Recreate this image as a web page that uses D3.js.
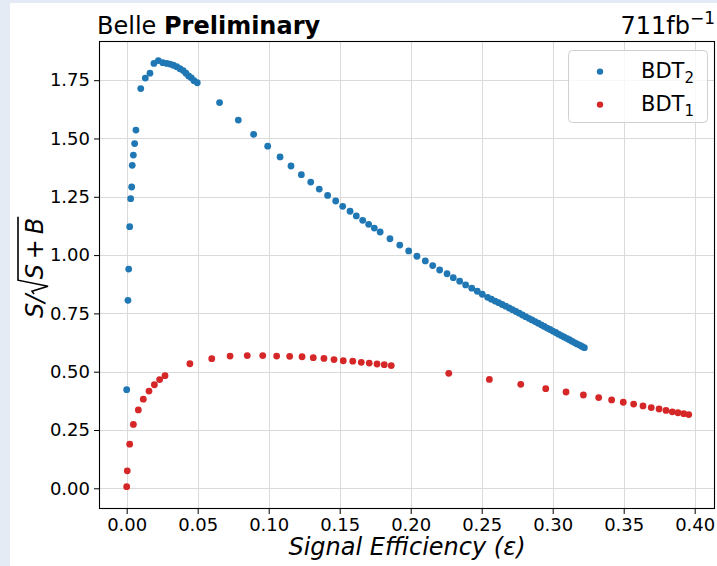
<!DOCTYPE html>
<html>
<head>
<meta charset="utf-8">
<script src="https://cdn.jsdelivr.net/npm/d3@7"></script>
<style>
  html, body { margin: 0; padding: 0; background: #e5ebf4; }
  svg { display: block; font-family: "DejaVu Sans", sans-serif; }
</style>
</head>
<body>
<svg id="chart" width="717" height="566"></svg>
<script>
// Signal efficiency scan for the two classifiers
const bdt2Eff = [
  0.0000, 0.0009, 0.0014, 0.0021, 0.0028, 0.0035, 0.0039, 0.0047, 0.0056, 0.0065,
  0.0099, 0.0131, 0.0164, 0.0192, 0.0223, 0.0254, 0.0282, 0.0305, 0.0328, 0.0352,
  0.0375, 0.0398, 0.0417, 0.0436, 0.0455, 0.0474, 0.0497, 0.0654, 0.0786, 0.0894,
  0.0993, 0.1080, 0.1157, 0.1230, 0.1296, 0.1356, 0.1415, 0.1472, 0.1521, 0.1573,
  0.1617, 0.1662, 0.1704, 0.1744, 0.1785, 0.1854, 0.1923, 0.1986, 0.2044, 0.2103,
  0.2155, 0.2204, 0.2256, 0.2300, 0.2345, 0.2387, 0.2430, 0.2469, 0.2504, 0.2542,
  0.2568, 0.2594, 0.2619, 0.2644, 0.2669, 0.2693, 0.2717, 0.2741, 0.2764, 0.2787,
  0.2810, 0.2832, 0.2854, 0.2876, 0.2898, 0.2919, 0.2940, 0.2961, 0.2981, 0.3001,
  0.3021, 0.3041, 0.3060, 0.3079, 0.3098, 0.3117, 0.3135, 0.3153, 0.3171, 0.3189,
  0.3206, 0.3223
];
const bdt2Signif = [
  0.423, 0.806, 0.940, 1.122, 1.242, 1.292, 1.385, 1.429, 1.478, 1.536,
  1.714, 1.759, 1.780, 1.822, 1.834, 1.825, 1.822, 1.819, 1.814, 1.808,
  1.799, 1.791, 1.780, 1.768, 1.760, 1.748, 1.739, 1.654, 1.579, 1.518,
  1.467, 1.421, 1.382, 1.345, 1.313, 1.283, 1.256, 1.232, 1.209, 1.188,
  1.168, 1.149, 1.132, 1.116, 1.099, 1.070, 1.043, 1.018, 0.995, 0.975,
  0.955, 0.936, 0.920, 0.903, 0.888, 0.872, 0.858, 0.845, 0.832, 0.819,
  0.811, 0.803, 0.796, 0.788, 0.781, 0.773, 0.766, 0.758, 0.751, 0.743,
  0.736, 0.729, 0.722, 0.715, 0.708, 0.701, 0.694, 0.687, 0.681, 0.674,
  0.668, 0.661, 0.655, 0.649, 0.643, 0.637, 0.631, 0.625, 0.619, 0.614,
  0.608, 0.603
];
const bdt1Eff = [
  0.0000, 0.0004, 0.0021, 0.0047, 0.0082, 0.0117, 0.0157, 0.0195, 0.0232, 0.0270,
  0.0445, 0.0599, 0.0728, 0.0849, 0.0958, 0.1056, 0.1148, 0.1235, 0.1314, 0.1389,
  0.1460, 0.1525, 0.1592, 0.1652, 0.1708, 0.1763, 0.1814, 0.1863, 0.2268, 0.2554,
  0.2775, 0.2951, 0.3094, 0.3216, 0.3324, 0.3415, 0.3497, 0.3570, 0.3636, 0.3694,
  0.3749, 0.3798, 0.3842, 0.3882, 0.3923, 0.3958
];
const bdt1Signif = [
  0.007, 0.075, 0.189, 0.274, 0.336, 0.382, 0.417, 0.444, 0.466, 0.483,
  0.534, 0.556, 0.567, 0.569, 0.569, 0.567, 0.566, 0.564, 0.560, 0.557,
  0.552, 0.547, 0.545, 0.540, 0.537, 0.533, 0.530, 0.526, 0.493, 0.467,
  0.446, 0.427, 0.413, 0.400, 0.389, 0.379, 0.369, 0.361, 0.353, 0.346,
  0.340, 0.334, 0.328, 0.324, 0.320, 0.316
];
const xTickValues = [0.00, 0.05, 0.10, 0.15, 0.20, 0.25, 0.30, 0.35, 0.40];
const yTickValues = [0.00, 0.25, 0.50, 0.75, 1.00, 1.25, 1.50, 1.75];
const seriesNames = ["BDT", "BDT"];
const seriesSubs = ["2", "1"];
const seriesColors = ["#1f77b4", "#d62728"];

const svg = d3.select("#chart");
const W = 717, H = 566;
const plot = { left: 99, right: 715, top: 41, bottom: 509 };

// figure background
svg.append("rect").attr("x", 10).attr("y", 3).attr("width", W - 10).attr("height", H - 3).attr("fill", "#ffffff");

const x = d3.scaleLinear().domain([-0.0195, 0.4143]).range([plot.left, plot.right]);
const y = d3.scaleLinear().domain([-0.0888, 1.918]).range([plot.bottom, plot.top]);

// grid
const grid = svg.append("g").attr("stroke", "#dadada").attr("stroke-width", 1);
grid.selectAll("line.gx").data(xTickValues).join("line")
  .attr("x1", d => Math.round(x(d)) + 0.5).attr("x2", d => Math.round(x(d)) + 0.5)
  .attr("y1", plot.top).attr("y2", plot.bottom);
grid.selectAll("line.gy").data(yTickValues).join("line")
  .attr("y1", d => Math.round(y(d)) + 0.5).attr("y2", d => Math.round(y(d)) + 0.5)
  .attr("x1", plot.left).attr("x2", plot.right);

// axes
const xAxis = svg.append("g").attr("transform", `translate(0,${plot.bottom})`)
  .call(d3.axisBottom(x).tickValues(xTickValues).tickFormat(d3.format(".2f"))
    .tickSize(5).tickSizeOuter(0).tickPadding(4));
const yAxis = svg.append("g").attr("transform", `translate(${plot.left},0)`)
  .call(d3.axisLeft(y).tickValues(yTickValues).tickFormat(d3.format(".2f"))
    .tickSize(5).tickSizeOuter(0).tickPadding(4));
[xAxis, yAxis].forEach(a => {
  a.select(".domain").remove();
  a.selectAll("text").attr("font-size", 18).attr("font-family", "DejaVu Sans").attr("fill", "#000");
  a.selectAll("line").attr("stroke", "#000").attr("stroke-width", 1);
});

// points
const series = [
  { eff: bdt2Eff, sig: bdt2Signif, color: seriesColors[0] },
  { eff: bdt1Eff, sig: bdt1Signif, color: seriesColors[1] }
];
series.forEach(s => {
  svg.append("g").selectAll("circle").data(d3.range(s.eff.length)).join("circle")
    .attr("cx", i => x(s.eff[i])).attr("cy", i => y(s.sig[i]))
    .attr("r", 3.4).attr("fill", s.color);
});

// frame
svg.append("rect").attr("x", plot.left + 0.5).attr("y", plot.top + 0.5)
  .attr("width", plot.right - plot.left - 1).attr("height", plot.bottom - plot.top - 1)
  .attr("fill", "none").attr("stroke", "#000").attr("stroke-width", 1.1);

// legend
const lg = svg.append("g");
lg.append("rect").attr("x", 568.5).attr("y", 50.5).attr("width", 139).attr("height", 72).attr("rx", 4)
  .attr("fill", "#fff").attr("fill-opacity", 0.8).attr("stroke", "#d0d0d0");
seriesNames.forEach((name, i) => {
  const cy = 71.6 + i * 33;
  lg.append("circle").attr("cx", 600).attr("cy", cy).attr("r", 3.2).attr("fill", seriesColors[i]);
  const t = lg.append("text").attr("x", 641).attr("y", cy + 6.5).attr("font-size", 21).attr("fill", "#000");
  t.append("tspan").text(name);
  t.append("tspan").attr("font-size", 15).attr("dy", 5).text(seriesSubs[i]);
});

// titles
const tl = svg.append("text").attr("x", 97).attr("y", 34).attr("font-size", 24).attr("fill", "#000");
tl.append("tspan").text("Belle ");
tl.append("tspan").attr("font-weight", "bold").text("Preliminary");
const tr = svg.append("text").attr("x", 715).attr("y", 34).attr("font-size", 24)
  .attr("text-anchor", "end").attr("fill", "#000");
tr.append("tspan").text("711fb");
tr.append("tspan").attr("font-size", 17).attr("dy", -10).text("\u22121");

// x label
svg.append("text").attr("x", (plot.left + plot.right) / 2).attr("y", 555)
  .attr("text-anchor", "middle").attr("font-size", 24).attr("font-style", "italic")
  .attr("fill", "#000").text("Signal Efficiency (\u03B5)");

// y label: S/sqrt(S+B)
const yl = svg.append("g").attr("transform", "translate(43,269) rotate(-90)");
const part1 = yl.append("text").attr("x", -49).attr("y", 0).attr("font-size", 24)
  .attr("font-style", "italic").attr("fill", "#000").text("S/");
const w1 = part1.node().getComputedTextLength();
const x0 = -49 + w1 + 0.5;
const part2 = yl.append("text").attr("x", x0 + 15).attr("y", 0).attr("font-size", 24).attr("fill", "#000");
part2.append("tspan").attr("font-style", "italic").text("S");
part2.append("tspan").text("\u2009+\u2009");
part2.append("tspan").attr("font-style", "italic").text("B");
const w2 = part2.node().getComputedTextLength();
yl.append("path")
  .attr("d", `M${x0},-9 L${x0 + 3},-11 L${x0 + 8},5 L${x0 + 14},-25 L${x0 + 15 + w2 + 1},-25`)
  .attr("fill", "none").attr("stroke", "#000").attr("stroke-width", 1.6).attr("stroke-linejoin", "miter");
</script>
</body>
</html>
